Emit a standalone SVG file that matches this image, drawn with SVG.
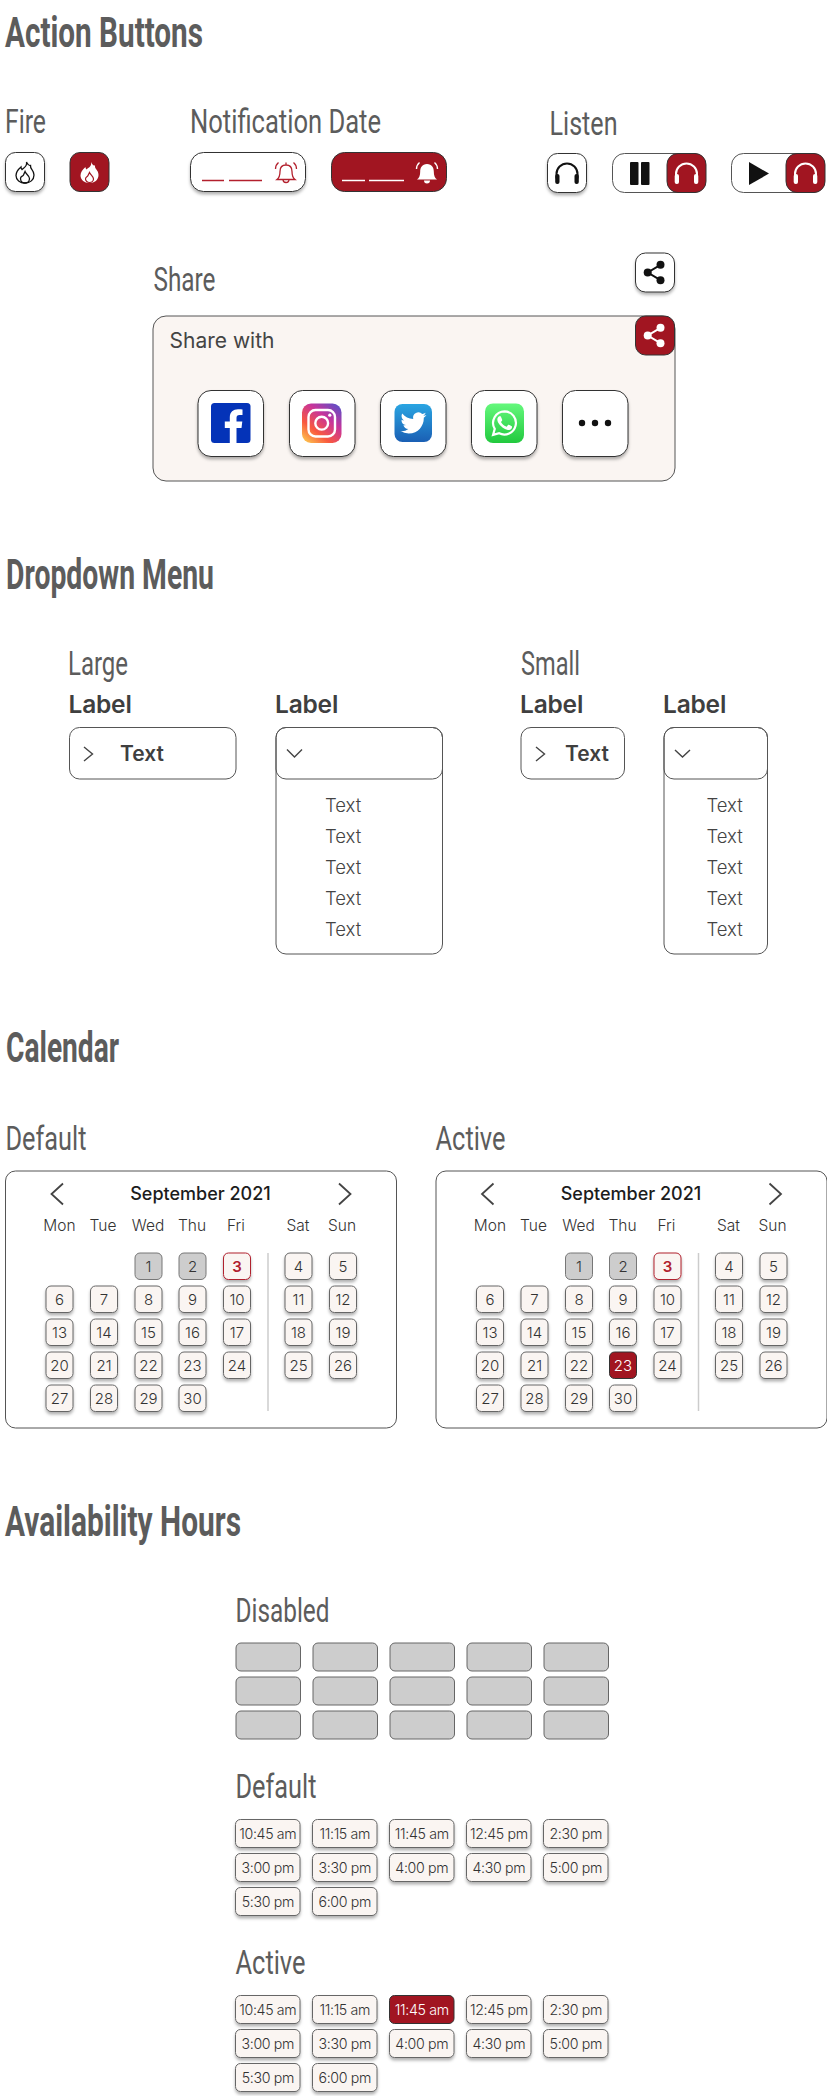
<svg xmlns="http://www.w3.org/2000/svg" width="827" height="2096" viewBox="0 0 827 2096">
<style>
text{font-family:"Inter","Liberation Sans",sans-serif;fill:#444}
.h1{font-family:"Roboto","Liberation Sans",sans-serif;font-weight:700;font-size:43px;fill:#5c5c5c}
.h2{font-family:"Roboto","Liberation Sans",sans-serif;font-weight:400;font-size:34px;fill:#5c5c5c}
.lab{font-size:24.5px;font-weight:600;fill:#3f3f3f;letter-spacing:-0.2px}
.val{font-size:21px;font-weight:600;fill:#3f3f3f}
.opt{font-size:18.5px;font-weight:300;fill:#444}
.month{font-size:18px;font-weight:500;fill:#1c1c1c;text-anchor:middle}
.wd{font-size:15.5px;font-weight:300;fill:#333;text-anchor:middle}
.d{font-size:15px;font-weight:300;fill:#333;text-anchor:middle}
.t{font-size:14.2px;font-weight:300;fill:#333;text-anchor:middle;letter-spacing:-0.35px}
.btn{fill:#fff;stroke:#333;stroke-width:1;filter:url(#sh)}
.red{fill:#a11521;stroke:#333;stroke-width:1}
.line{fill:none;stroke:#555;stroke-width:1}
.chev{fill:none;stroke:#444;stroke-width:1.4}
.day{width:27px;height:26.5px;rx:5px;fill:#faf5f2;stroke:#666;stroke-width:1;filter:url(#sh)}
.dis{width:27px;height:26.5px;rx:5px;fill:#cdcdcd;stroke:#777;stroke-width:1}
.today{width:27px;height:26.5px;rx:5px;fill:#faf5f2;stroke:#b0202e;stroke-width:1;filter:url(#sh)}
.act{width:27px;height:26.5px;rx:5px;fill:#a11521;stroke:#333;stroke-width:1}
.cell{width:64.5px;height:28px;rx:5px;fill:#faf5f2;stroke:#666;stroke-width:1;filter:url(#sh)}
.cdis{width:64.5px;height:28px;rx:5px;fill:#cdcdcd;stroke:#666;stroke-width:1}
.cact{width:64.5px;height:28px;rx:5px;fill:#a11521;stroke:#333;stroke-width:1}
.soc{width:65.5px;height:66px;rx:13px;fill:#fff;stroke:#333;stroke-width:1;filter:url(#sh)}
</style>
<defs>
<filter id="sh" x="-20%" y="-20%" width="140%" height="150%"><feDropShadow dx="0" dy="2.5" stdDeviation="1.7" flood-color="#000" flood-opacity="0.3"/></filter>
<linearGradient id="ig" x1="0.1" y1="1" x2="0.9" y2="0"><stop offset="0" stop-color="#fdc64e"/><stop offset="0.3" stop-color="#f9593f"/><stop offset="0.65" stop-color="#c7349b"/><stop offset="1" stop-color="#5a50c8"/></linearGradient>
<linearGradient id="tw" x1="0" y1="0" x2="0" y2="1"><stop offset="0" stop-color="#2aa5e2"/><stop offset="1" stop-color="#1a5fb4"/></linearGradient>
<linearGradient id="wa" x1="0" y1="0" x2="0" y2="1"><stop offset="0" stop-color="#64f87c"/><stop offset="1" stop-color="#22c93e"/></linearGradient>
<g id="phones"><path d="M-10.5 5V0.5a10.5 10.5 0 0 1 21 0V5" fill="none" stroke="currentColor" stroke-width="2"/><rect x="-11.8" y="0.5" width="4.3" height="10" rx="2" fill="currentColor"/><rect x="7.5" y="0.5" width="4.3" height="10" rx="2" fill="currentColor"/></g>
<g id="shareic"><path d="M5.5-7.7L-7.3 0L5.5 7.7" fill="none" stroke="currentColor" stroke-width="2"/><circle cx="-7.3" cy="0" r="4" fill="currentColor"/><circle cx="5.5" cy="-7.7" r="4" fill="currentColor"/><circle cx="5.5" cy="7.7" r="4" fill="currentColor"/></g>
<g id="bell" fill="none" stroke="currentColor" stroke-width="1.3"><path d="M0-7.5C-4.5-7.5-6-4.5-6-1C-6 3-7 5.5-9 7H9C7 5.5 6 3 6-1C6-4.5 4.5-7.5 0-7.5ZM0-7.5V-10M-3 7a3 3 0 0 0 6 0M-7.5-10C-9.5-8.3-10.5-6-10.5-3.5M7.5-10C9.5-8.3 10.5-6 10.5-3.5"/></g>
</defs>
<g id="connectors"/>

<g id="section-action">
<text class="h1" x="5" y="46.7" textLength="198" lengthAdjust="spacingAndGlyphs">Action Buttons</text>
<text class="h2" x="5" y="133" textLength="41" lengthAdjust="spacingAndGlyphs">Fire</text>
<text class="h2" x="190" y="133" textLength="191" lengthAdjust="spacingAndGlyphs">Notification Date</text>
<text class="h2" x="549.5" y="135" textLength="68" lengthAdjust="spacingAndGlyphs">Listen</text>
<text class="h2" x="153.5" y="291" textLength="62" lengthAdjust="spacingAndGlyphs">Share</text>
</g>
<g id="fire-default">
<rect class="btn" x="5.5" y="152.5" width="39" height="39" rx="10"/>
<g transform="translate(25,172.5)" fill="none" stroke="#111" stroke-width="1.3"><path d="M1.5-10.5C2.5-6-1-5-3-3C-4-4-4-5-4-5.5C-7-3-9 0-9 3C-9 7.5-5 10.5 0 10.5C5 10.5 9 7.5 9 2.5C9-3 5-3 5.5-7C3.5-6.5 3-8 1.5-10.5Z"/><path d="M0-1C1 2 4.5 3 4.5 6C4.5 8.5 2.5 10.5 0 10.5C-2.5 10.5-4.5 8.5-4.5 6C-4.5 3.5-2 4-1.5 2.5C-1 1.5-.5 0 0-1Z"/></g>
</g>
<g id="fire-active">
<rect class="red" x="70" y="152.5" width="39" height="39" rx="10"/>
<g transform="translate(89.5,172.5)"><path fill="#fff" d="M1.5-10.5C2.5-6-1-5-3-3C-4-4-4-5-4-5.5C-7-3-9 0-9 3C-9 7.5-5 10.5 0 10.5C5 10.5 9 7.5 9 2.5C9-3 5-3 5.5-7C3.5-6.5 3-8 1.5-10.5Z"/><path fill="#fff" stroke="#a11521" stroke-width="1.2" d="M0 0C1 2.5 4 3.5 4 6.5C4 8.5 2 10 0 10C-2 10-4 8.5-4 6.5C-4 4-2 4.5-1.5 3C-1 2-.5 1 0 0Z"/></g>
</g>
<g id="notif-default">
<rect class="btn" x="190.5" y="152.5" width="115" height="39" rx="13"/>
<path d="M202 180.5H224M229 180.5H262" stroke="#b3202d" stroke-width="1.4"/>
<use href="#bell" x="286" y="172.5" style="color:#b3202d"/>
</g>
<g id="notif-active">
<rect class="red" x="331.5" y="152.5" width="115" height="39" rx="13"/>
<path d="M342 180.5H365M369 180.5H404" stroke="#fff" stroke-width="1.6"/>
<g transform="translate(427,172.5)" fill="#fff"><path d="M0-8.5C-5-8.5-6.8-4.5-6.8-1C-6.8 3-7.8 5.5-10 7H10C7.8 5.5 6.8 3 6.8-1C6.8-4.5 5-8.5 0-8.5ZM-3 8a3 3 0 0 0 6 0Z"/><path fill="none" stroke="#fff" stroke-width="1.4" d="M-7.5-10C-9.5-8.3-10.5-6-10.5-3.5M7.5-10C9.5-8.3 10.5-6 10.5-3.5"/></g>
</g>
<g id="listen-default">
<rect class="btn" x="547.5" y="153.5" width="39" height="39" rx="10"/>
<use href="#phones" x="567" y="173.5" style="color:#111"/>
</g>
<g id="listen-pause">
<rect x="612.5" y="153.5" width="93" height="39" rx="12" fill="#fff" stroke="#555"/>
<rect x="630" y="162" width="8.5" height="23" rx="1" fill="#111"/><rect x="641" y="162" width="8.5" height="23" rx="1" fill="#111"/>
<rect class="red" x="667" y="153.5" width="39" height="39" rx="11"/>
<use href="#phones" x="686.5" y="173.5" style="color:#fff"/>
</g>
<g id="listen-play">
<rect x="731.5" y="153.5" width="93" height="39" rx="12" fill="#fff" stroke="#555"/>
<path d="M749 162L769 173.5L749 185Z" fill="#111"/>
<rect class="red" x="786" y="153.5" width="39" height="39" rx="11"/>
<use href="#phones" x="805.5" y="173.5" style="color:#fff"/>
</g>
<g id="share-default">
<rect class="btn" x="635.5" y="253" width="39" height="39" rx="10"/>
<use href="#shareic" x="655" y="272.5" style="color:#111"/>
</g>
<g id="share-panel">
<rect x="153" y="316" width="522" height="165" rx="13" fill="#faf5f2" stroke="#555"/>
<text x="169.5" y="347.5" style="font-size:21px;font-weight:400">Share with</text>
<rect class="red" x="635.5" y="316" width="39" height="39" rx="10"/>
<use href="#shareic" x="655" y="335.5" style="color:#fff"/>
</g>
<g id="social-facebook">
<rect class="soc" x="198" y="390.5"/>
<rect x="211" y="403" width="39.5" height="40" rx="3.5" fill="#0433b8"/>
<path d="M236.5 443V428H241.5L242.3 421.5H236.5V418C236.5 416 237.3 415 239.5 415H242.5V409.5C241.5 409.3 240 409.2 238 409.2C233.3 409.2 229.8 412 229.8 417.3V421.5H224.8V428H229.8V443Z" fill="#fff"/>
</g>
<g id="social-instagram">
<rect class="soc" x="289.5" y="390.5"/>
<rect x="302" y="403.5" width="39.5" height="39.5" rx="9" fill="url(#ig)"/>
<rect x="308.5" y="410" width="26.5" height="26.5" rx="7" fill="none" stroke="#fff" stroke-width="2.4"/>
<circle cx="321.7" cy="423.2" r="6.4" fill="none" stroke="#fff" stroke-width="2.4"/>
<circle cx="329.8" cy="415.2" r="1.6" fill="#fff"/>
</g>
<g id="social-twitter">
<rect class="soc" x="380.5" y="390.5"/>
<rect x="394.5" y="404" width="37.5" height="38" rx="8" fill="url(#tw)"/>
<path transform="translate(400.5,410) scale(1.08)" fill="#fff" d="M23.953 4.57a10 10 0 01-2.825.775 4.958 4.958 0 002.163-2.723c-.951.555-2.005.959-3.127 1.184a4.92 4.92 0 00-8.384 4.482C7.69 8.095 4.067 6.13 1.64 3.162a4.822 4.822 0 00-.666 2.475c0 1.71.87 3.213 2.188 4.096a4.904 4.904 0 01-2.228-.616v.06a4.923 4.923 0 003.946 4.827 4.996 4.996 0 01-2.212.085 4.936 4.936 0 004.604 3.417 9.867 9.867 0 01-6.102 2.105c-.39 0-.779-.023-1.17-.067a13.995 13.995 0 007.557 2.209c9.053 0 13.998-7.496 13.998-13.985 0-.21 0-.42-.015-.63A9.935 9.935 0 0024 4.59z"/>
</g>
<g id="social-whatsapp">
<rect class="soc" x="471.5" y="390.5"/>
<rect x="485" y="403.5" width="39" height="39.5" rx="8" fill="url(#wa)"/>
<g transform="translate(490,408.5) scale(1.22)"><path d="M12 2.3a9.5 9.5 0 0 0-8.1 14.4L2.5 21.6l5-1.3A9.5 9.5 0 1 0 12 2.3Z" fill="none" stroke="#fff" stroke-width="1.8"/><path fill="#fff" d="M17.472 14.382c-.297-.149-1.758-.867-2.03-.967-.273-.099-.471-.148-.67.15-.197.297-.767.966-.94 1.164-.173.199-.347.223-.644.075-.297-.15-1.255-.463-2.39-1.475-.883-.788-1.48-1.761-1.653-2.059-.173-.297-.018-.458.13-.606.134-.133.298-.347.446-.52.149-.174.198-.298.298-.497.099-.198.05-.371-.025-.52-.075-.149-.669-1.612-.916-2.207-.242-.579-.487-.5-.669-.51-.173-.008-.371-.01-.57-.01-.198 0-.52.074-.792.372-.272.297-1.04 1.016-1.04 2.479 0 1.462 1.065 2.875 1.213 3.074.149.198 2.096 3.2 5.077 4.487.709.306 1.262.489 1.694.625.712.227 1.36.195 1.871.118.571-.085 1.758-.719 2.006-1.413.248-.694.248-1.289.173-1.413-.074-.124-.272-.198-.57-.347z"/></g>
</g>
<g id="social-more">
<rect class="soc" x="562.5" y="390.5"/>
<circle cx="582" cy="423" r="3.2" fill="#111"/><circle cx="595" cy="423" r="3.2" fill="#111"/><circle cx="608" cy="423" r="3.2" fill="#111"/>
</g>

<g id="section-dropdown">
<text class="h1" x="6" y="588.5" textLength="208" lengthAdjust="spacingAndGlyphs">Dropdown Menu</text>
<text class="h2" x="68" y="675" textLength="60" lengthAdjust="spacingAndGlyphs">Large</text>
<text class="h2" x="521" y="675" textLength="59" lengthAdjust="spacingAndGlyphs">Small</text>
</g>
<g id="dropdown-large-closed">
<text class="lab" x="68.5" y="713">Label</text>
<rect class="line" x="69.5" y="727.5" width="166.5" height="51.5" rx="10"/>
<path class="chev" d="M84 747L92.5 754L84 761"/>
<text class="val" x="120" y="761">Text</text>
</g>
<g id="dropdown-large-open">
<text class="lab" x="275" y="713">Label</text>
<rect class="line" x="276" y="727.5" width="166.5" height="226.5" rx="10"/>
<rect class="line" x="276" y="727.5" width="166.5" height="51.5" rx="10"/>
<path class="chev" d="M287 749.5L294.5 757L302 749.5"/>
<text class="opt" x="325" y="812">Text</text><text class="opt" x="325" y="843">Text</text><text class="opt" x="325" y="874">Text</text><text class="opt" x="325" y="905">Text</text><text class="opt" x="325" y="936">Text</text>
</g>
<g id="dropdown-small-closed">
<text class="lab" x="520" y="713">Label</text>
<rect class="line" x="521" y="727.5" width="103.5" height="51.5" rx="10"/>
<path class="chev" d="M536 747L544.5 754L536 761"/>
<text class="val" x="565" y="761">Text</text>
</g>
<g id="dropdown-small-open">
<text class="lab" x="663" y="713">Label</text>
<rect class="line" x="664" y="727.5" width="103.5" height="226.5" rx="10"/>
<rect class="line" x="664" y="727.5" width="103.5" height="51.5" rx="10"/>
<path class="chev" d="M675 750L682.5 757L690 750"/>
<text class="opt" x="706.5" y="812">Text</text><text class="opt" x="706.5" y="843">Text</text><text class="opt" x="706.5" y="874">Text</text><text class="opt" x="706.5" y="905">Text</text><text class="opt" x="706.5" y="936">Text</text>
</g>

<g id="section-calendar">
<text class="h1" x="6" y="1062" textLength="113" lengthAdjust="spacingAndGlyphs">Calendar</text>
<text class="h2" x="5.5" y="1150" textLength="81" lengthAdjust="spacingAndGlyphs">Default</text>
<text class="h2" x="435.5" y="1150" textLength="70" lengthAdjust="spacingAndGlyphs">Active</text>
</g>
<g id="calendar-default">
<rect class="line" x="5.5" y="1171" width="391" height="257" rx="10"/>
<path class="chev" style="stroke-width:1.8" d="M63 1183.5L51.5 1194L63 1204.5M339 1183.5L350.5 1194L339 1204.5"/>
<text class="month" x="200.5" y="1200">September 2021</text>
<text class="wd" x="59.5" y="1231">Mon</text><text class="wd" x="103" y="1231">Tue</text><text class="wd" x="148" y="1231">Wed</text><text class="wd" x="192" y="1231">Thu</text><text class="wd" x="236" y="1231">Fri</text><text class="wd" x="298" y="1231">Sat</text><text class="wd" x="342" y="1231">Sun</text>
<path d="M268 1253V1411" stroke="#ccc" stroke-width="1.5"/>
<rect class="dis" x="135" y="1253"/><text class="d" x="148.5" y="1271.5">1</text>
<rect class="dis" x="179" y="1253"/><text class="d" x="192.5" y="1271.5">2</text>
<rect class="today" x="223.5" y="1253"/><text class="d" x="237" y="1271.5" style="fill:#b0202e;font-weight:600">3</text>
<rect class="day" x="285" y="1253"/><text class="d" x="298.5" y="1271.5">4</text>
<rect class="day" x="329.5" y="1253"/><text class="d" x="343" y="1271.5">5</text>
<rect class="day" x="46" y="1286"/><text class="d" x="59.5" y="1304.5">6</text>
<rect class="day" x="90.5" y="1286"/><text class="d" x="104" y="1304.5">7</text>
<rect class="day" x="135" y="1286"/><text class="d" x="148.5" y="1304.5">8</text>
<rect class="day" x="179" y="1286"/><text class="d" x="192.5" y="1304.5">9</text>
<rect class="day" x="223.5" y="1286"/><text class="d" x="237" y="1304.5">10</text>
<rect class="day" x="285" y="1286"/><text class="d" x="298.5" y="1304.5">11</text>
<rect class="day" x="329.5" y="1286"/><text class="d" x="343" y="1304.5">12</text>
<rect class="day" x="46" y="1319"/><text class="d" x="59.5" y="1337.5">13</text>
<rect class="day" x="90.5" y="1319"/><text class="d" x="104" y="1337.5">14</text>
<rect class="day" x="135" y="1319"/><text class="d" x="148.5" y="1337.5">15</text>
<rect class="day" x="179" y="1319"/><text class="d" x="192.5" y="1337.5">16</text>
<rect class="day" x="223.5" y="1319"/><text class="d" x="237" y="1337.5">17</text>
<rect class="day" x="285" y="1319"/><text class="d" x="298.5" y="1337.5">18</text>
<rect class="day" x="329.5" y="1319"/><text class="d" x="343" y="1337.5">19</text>
<rect class="day" x="46" y="1352"/><text class="d" x="59.5" y="1370.5">20</text>
<rect class="day" x="90.5" y="1352"/><text class="d" x="104" y="1370.5">21</text>
<rect class="day" x="135" y="1352"/><text class="d" x="148.5" y="1370.5">22</text>
<rect class="day" x="179" y="1352"/><text class="d" x="192.5" y="1370.5">23</text>
<rect class="day" x="223.5" y="1352"/><text class="d" x="237" y="1370.5">24</text>
<rect class="day" x="285" y="1352"/><text class="d" x="298.5" y="1370.5">25</text>
<rect class="day" x="329.5" y="1352"/><text class="d" x="343" y="1370.5">26</text>
<rect class="day" x="46" y="1385"/><text class="d" x="59.5" y="1403.5">27</text>
<rect class="day" x="90.5" y="1385"/><text class="d" x="104" y="1403.5">28</text>
<rect class="day" x="135" y="1385"/><text class="d" x="148.5" y="1403.5">29</text>
<rect class="day" x="179" y="1385"/><text class="d" x="192.5" y="1403.5">30</text>
</g>
<g id="calendar-active" transform="translate(430.5,0)">
<rect class="line" x="5.5" y="1171" width="391" height="257" rx="10"/>
<path class="chev" style="stroke-width:1.8" d="M63 1183.5L51.5 1194L63 1204.5M339 1183.5L350.5 1194L339 1204.5"/>
<text class="month" x="200.5" y="1200">September 2021</text>
<text class="wd" x="59.5" y="1231">Mon</text><text class="wd" x="103" y="1231">Tue</text><text class="wd" x="148" y="1231">Wed</text><text class="wd" x="192" y="1231">Thu</text><text class="wd" x="236" y="1231">Fri</text><text class="wd" x="298" y="1231">Sat</text><text class="wd" x="342" y="1231">Sun</text>
<path d="M268 1253V1411" stroke="#ccc" stroke-width="1.5"/>
<rect class="dis" x="135" y="1253"/><text class="d" x="148.5" y="1271.5">1</text>
<rect class="dis" x="179" y="1253"/><text class="d" x="192.5" y="1271.5">2</text>
<rect class="today" x="223.5" y="1253"/><text class="d" x="237" y="1271.5" style="fill:#b0202e;font-weight:600">3</text>
<rect class="day" x="285" y="1253"/><text class="d" x="298.5" y="1271.5">4</text>
<rect class="day" x="329.5" y="1253"/><text class="d" x="343" y="1271.5">5</text>
<rect class="day" x="46" y="1286"/><text class="d" x="59.5" y="1304.5">6</text>
<rect class="day" x="90.5" y="1286"/><text class="d" x="104" y="1304.5">7</text>
<rect class="day" x="135" y="1286"/><text class="d" x="148.5" y="1304.5">8</text>
<rect class="day" x="179" y="1286"/><text class="d" x="192.5" y="1304.5">9</text>
<rect class="day" x="223.5" y="1286"/><text class="d" x="237" y="1304.5">10</text>
<rect class="day" x="285" y="1286"/><text class="d" x="298.5" y="1304.5">11</text>
<rect class="day" x="329.5" y="1286"/><text class="d" x="343" y="1304.5">12</text>
<rect class="day" x="46" y="1319"/><text class="d" x="59.5" y="1337.5">13</text>
<rect class="day" x="90.5" y="1319"/><text class="d" x="104" y="1337.5">14</text>
<rect class="day" x="135" y="1319"/><text class="d" x="148.5" y="1337.5">15</text>
<rect class="day" x="179" y="1319"/><text class="d" x="192.5" y="1337.5">16</text>
<rect class="day" x="223.5" y="1319"/><text class="d" x="237" y="1337.5">17</text>
<rect class="day" x="285" y="1319"/><text class="d" x="298.5" y="1337.5">18</text>
<rect class="day" x="329.5" y="1319"/><text class="d" x="343" y="1337.5">19</text>
<rect class="day" x="46" y="1352"/><text class="d" x="59.5" y="1370.5">20</text>
<rect class="day" x="90.5" y="1352"/><text class="d" x="104" y="1370.5">21</text>
<rect class="day" x="135" y="1352"/><text class="d" x="148.5" y="1370.5">22</text>
<rect class="act" x="179" y="1352"/><text class="d" x="192.5" y="1370.5" style="fill:#fff">23</text>
<rect class="day" x="223.5" y="1352"/><text class="d" x="237" y="1370.5">24</text>
<rect class="day" x="285" y="1352"/><text class="d" x="298.5" y="1370.5">25</text>
<rect class="day" x="329.5" y="1352"/><text class="d" x="343" y="1370.5">26</text>
<rect class="day" x="46" y="1385"/><text class="d" x="59.5" y="1403.5">27</text>
<rect class="day" x="90.5" y="1385"/><text class="d" x="104" y="1403.5">28</text>
<rect class="day" x="135" y="1385"/><text class="d" x="148.5" y="1403.5">29</text>
<rect class="day" x="179" y="1385"/><text class="d" x="192.5" y="1403.5">30</text>
</g>

<g id="section-hours">
<text class="h1" x="5" y="1536" textLength="236" lengthAdjust="spacingAndGlyphs">Availability Hours</text>
<text class="h2" x="235.5" y="1622" textLength="94" lengthAdjust="spacingAndGlyphs">Disabled</text>
<text class="h2" x="235.5" y="1798" textLength="81" lengthAdjust="spacingAndGlyphs">Default</text>
<text class="h2" x="235.5" y="1974" textLength="70" lengthAdjust="spacingAndGlyphs">Active</text>
</g>
<g id="hours-disabled">
<rect class="cdis" x="236" y="1643"/><rect class="cdis" x="313" y="1643"/><rect class="cdis" x="390" y="1643"/><rect class="cdis" x="467" y="1643"/><rect class="cdis" x="544" y="1643"/>
<rect class="cdis" x="236" y="1677"/><rect class="cdis" x="313" y="1677"/><rect class="cdis" x="390" y="1677"/><rect class="cdis" x="467" y="1677"/><rect class="cdis" x="544" y="1677"/>
<rect class="cdis" x="236" y="1711"/><rect class="cdis" x="313" y="1711"/><rect class="cdis" x="390" y="1711"/><rect class="cdis" x="467" y="1711"/><rect class="cdis" x="544" y="1711"/>
</g>
<g id="hours-default">
<rect class="cell" x="235.5" y="1819.5"/><text class="t" x="267.8" y="1839">10:45 am</text>
<rect class="cell" x="312.5" y="1819.5"/><text class="t" x="344.8" y="1839">11:15 am</text>
<rect class="cell" x="389.5" y="1819.5"/><text class="t" x="421.8" y="1839">11:45 am</text>
<rect class="cell" x="466.5" y="1819.5"/><text class="t" x="498.8" y="1839">12:45 pm</text>
<rect class="cell" x="543.5" y="1819.5"/><text class="t" x="575.8" y="1839">2:30 pm</text>
<rect class="cell" x="235.5" y="1853.5"/><text class="t" x="267.8" y="1873">3:00 pm</text>
<rect class="cell" x="312.5" y="1853.5"/><text class="t" x="344.8" y="1873">3:30 pm</text>
<rect class="cell" x="389.5" y="1853.5"/><text class="t" x="421.8" y="1873">4:00 pm</text>
<rect class="cell" x="466.5" y="1853.5"/><text class="t" x="498.8" y="1873">4:30 pm</text>
<rect class="cell" x="543.5" y="1853.5"/><text class="t" x="575.8" y="1873">5:00 pm</text>
<rect class="cell" x="235.5" y="1887.5"/><text class="t" x="267.8" y="1907">5:30 pm</text>
<rect class="cell" x="312.5" y="1887.5"/><text class="t" x="344.8" y="1907">6:00 pm</text>
</g>
<g id="hours-active">
<rect class="cell" x="235.5" y="1995.5"/><text class="t" x="267.8" y="2015">10:45 am</text>
<rect class="cell" x="312.5" y="1995.5"/><text class="t" x="344.8" y="2015">11:15 am</text>
<rect class="cact" x="389.5" y="1995.5"/><text class="t" x="421.8" y="2015" style="fill:#fff">11:45 am</text>
<rect class="cell" x="466.5" y="1995.5"/><text class="t" x="498.8" y="2015">12:45 pm</text>
<rect class="cell" x="543.5" y="1995.5"/><text class="t" x="575.8" y="2015">2:30 pm</text>
<rect class="cell" x="235.5" y="2029.5"/><text class="t" x="267.8" y="2049">3:00 pm</text>
<rect class="cell" x="312.5" y="2029.5"/><text class="t" x="344.8" y="2049">3:30 pm</text>
<rect class="cell" x="389.5" y="2029.5"/><text class="t" x="421.8" y="2049">4:00 pm</text>
<rect class="cell" x="466.5" y="2029.5"/><text class="t" x="498.8" y="2049">4:30 pm</text>
<rect class="cell" x="543.5" y="2029.5"/><text class="t" x="575.8" y="2049">5:00 pm</text>
<rect class="cell" x="235.5" y="2063.5"/><text class="t" x="267.8" y="2083">5:30 pm</text>
<rect class="cell" x="312.5" y="2063.5"/><text class="t" x="344.8" y="2083">6:00 pm</text>
</g>
</svg>
